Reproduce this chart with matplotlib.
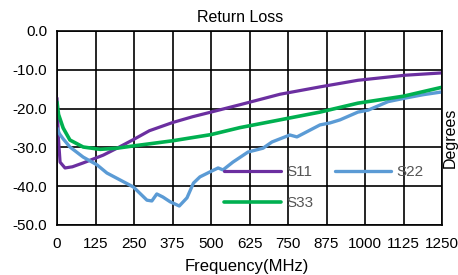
import matplotlib
matplotlib.use("Agg")
import matplotlib.pyplot as plt

plt.rcParams['font.family'] = ['Liberation Sans', 'DejaVu Sans']

freq_s11 = [0, 4, 10, 26, 50, 85, 150, 200, 250, 300, 375, 440, 500, 594, 724, 854, 977, 1130, 1250]
s11 = [-17.3, -27, -33.8, -35.3, -35.0, -34.0, -32.0, -30.0, -27.9, -25.7, -23.6, -22.1, -20.9, -19.0, -16.3, -14.4, -12.7, -11.4, -10.8]

freq_s22 = [0, 8, 20, 42, 85, 130, 162, 205, 248, 292, 308, 324, 344, 367, 397, 422, 443, 464, 497, 523, 539, 571, 620, 669, 698, 756, 779, 854, 886, 919, 977, 1010, 1075, 1130, 1190, 1250]
s22 = [-25.0, -26.5, -27.8, -29.9, -32.5, -34.5, -36.6, -38.4, -40.2, -43.6, -43.8, -42.0, -42.8, -44.0, -45.1, -43.0, -39.2, -37.6, -36.3, -35.3, -35.8, -33.8, -31.2, -30.2, -28.6, -26.8, -27.3, -24.2, -23.7, -22.9, -20.9, -20.4, -18.2, -17.3, -16.4, -15.7]

freq_s33 = [0, 5, 20, 42, 85, 140, 195, 250, 375, 500, 594, 724, 854, 977, 1125, 1250]
s33 = [-18.3, -21.5, -25.0, -28.1, -29.9, -30.5, -30.2, -29.6, -28.3, -26.7, -24.9, -22.9, -20.9, -18.6, -16.8, -14.5]

xticks = [0, 125, 250, 375, 500, 625, 750, 875, 1000, 1125, 1250]
yticks = [0, -10, -20, -30, -40, -50]
ytick_labels = ["0.0", "-10.0", "-20.0", "-30.0", "-40.0", "-50.0"]

W, H = 458, 275
fig = plt.figure(figsize=(W / 100, H / 100), dpi=100)
ax = fig.add_axes([57 / W, 1 - 225 / H, 385 / W, 194 / H])

l11, = ax.plot(freq_s11, s11, color='#6B2FA0', lw=2.3, label='S11', solid_capstyle='round')
l22, = ax.plot(freq_s22, s22, color='#5B9BD5', lw=2.4, label='S22', solid_capstyle='round')
l33, = ax.plot(freq_s33, s33, color='#00B050', lw=2.6, label='S33', solid_capstyle='round')

ax.set_xlim(0, 1250)
ax.set_ylim(-50, 0)
ax.set_xticks(xticks)
ax.set_xticklabels([str(t) for t in xticks])
ax.set_yticks(yticks)
ax.set_yticklabels(ytick_labels)
ax.grid(True, color='black', lw=1.2)
ax.set_axisbelow(True)
for s in ax.spines.values():
    s.set_color('black')
    s.set_linewidth(1.2)
ax.tick_params(length=0, labelsize=11, colors='black')
ax.tick_params(axis='y', pad=7)
ax.tick_params(axis='x', pad=9)

fig.text(240 / W, 1 - 17 / H, 'Return Loss', fontsize=11.5, ha='center', va='center')
fig.text(247 / W, 1 - 267 / H, 'Frequency(MHz)', fontsize=12, ha='center', va='center')
fig.text(450 / W, 1 - 138 / H, 'Degrees', rotation=90, fontsize=11.5, va='center', ha='center')

leg = ax.legend([l11, l33, l22], ['S11', 'S33', 'S22'], ncol=2, frameon=False,
                loc='upper left', bbox_to_anchor=(0.435, 0.309), fontsize=11,
                handlelength=3.7, handletextpad=0.35, columnspacing=1.4, labelspacing=1.1,
                borderaxespad=0, borderpad=0)
for t in leg.get_texts():
    t.set_color('#555555')

fig.savefig('out.png', dpi=100)
